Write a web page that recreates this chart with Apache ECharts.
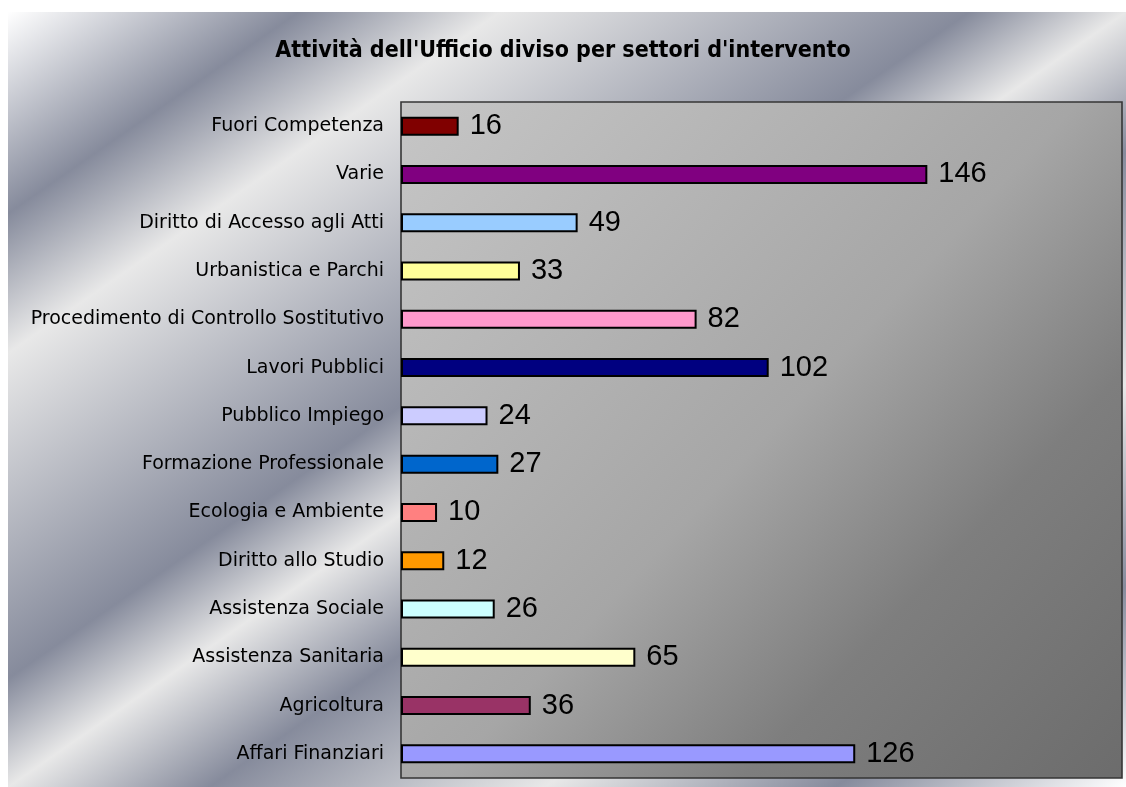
<!DOCTYPE html>
<html>
<head>
<meta charset="utf-8">
<script src="https://cdn.jsdelivr.net/npm/echarts@6/dist/echarts.min.js"></script>
<style>
html,body{margin:0;padding:0;background:#ffffff;}
#chart{width:1126px;height:787px;}
</style>
</head>
<body>
<div id="chart"></div>
<script>
const titleText = "Attività dell'Ufficio diviso per settori d'intervento";
const categories = [
  "Fuori Competenza",
  "Varie",
  "Diritto di Accesso agli Atti",
  "Urbanistica e Parchi",
  "Procedimento di Controllo Sostitutivo",
  "Lavori Pubblici",
  "Pubblico Impiego",
  "Formazione Professionale",
  "Ecologia e Ambiente",
  "Diritto allo Studio",
  "Assistenza Sociale",
  "Assistenza Sanitaria",
  "Agricoltura",
  "Affari Finanziari"
];
const values = [16, 146, 49, 33, 82, 102, 24, 27, 10, 12, 26, 65, 36, 126];
const barColors = [
  "#800000", "#800080", "#99ccff", "#ffff99", "#ff99cc", "#000080", "#ccccff",
  "#0066cc", "#ff8080", "#ff9900", "#ccffff", "#ffffcc", "#993366", "#9999ff"
];

const chart = echarts.init(document.getElementById('chart'), null, {renderer: 'canvas'});

const dark = '#868b9c', light = '#e8e8e8';
const option = {
  animation: false,
  graphic: [{
    type: 'rect',
    z: -10,
    silent: true,
    shape: {x: 8, y: 12, width: 1118, height: 775},
    style: {
      fill: {
        type: 'linear', x: 8, y: 12, x2: 734, y2: 1059, global: true,
        colorStops: [
          {offset: 0, color: '#ffffff'},
          {offset: 0.13, color: dark},
          {offset: 0.22, color: light},
          {offset: 0.43, color: dark},
          {offset: 0.5, color: light},
          {offset: 0.59, color: dark},
          {offset: 0.74, color: light},
          {offset: 0.87, color: dark},
          {offset: 1, color: '#ffffff'}
        ]
      }
    }
  }],
  title: {
    text: titleText,
    left: 'center',
    top: 35,
    textStyle: {
      fontFamily: "'DejaVu Sans Condensed', 'DejaVu Sans', sans-serif",
      fontWeight: 'bold',
      fontSize: 23,
      color: '#000000'
    }
  },
  grid: {
    left: 401, right: 4, top: 102, bottom: 9,
    containLabel: false,
    show: true,
    borderColor: '#363636',
    borderWidth: 1.6,
    backgroundColor: {
      type: 'linear', x: 0, y: 0, x2: 1, y2: 1,
      colorStops: [
        {offset: 0, color: '#c6c6c6'},
        {offset: 0.5, color: '#a6a6a6'},
        {offset: 0.72, color: '#7e7e7e'},
        {offset: 1, color: '#6c6c6c'}
      ]
    }
  },
  xAxis: {
    type: 'value',
    min: 0, max: 200,
    show: false,
    splitLine: {show: false}
  },
  yAxis: {
    type: 'category',
    inverse: true,
    data: categories,
    axisLine: {show: false},
    axisTick: {show: false},
    axisLabel: {
      margin: 17,
      fontFamily: "'DejaVu Sans', sans-serif",
      fontSize: 19,
      color: '#000000'
    }
  },
  series: [{
    type: 'bar',
    data: values.map((v, i) => ({value: v, itemStyle: {color: barColors[i]}})),
    barWidth: 19,
    itemStyle: {borderColor: '#000000', borderWidth: 2},
    label: {
      show: true,
      position: 'right',
      distance: 11,
      fontFamily: "'Liberation Sans', Arial, sans-serif",
      fontSize: 29,
      color: '#000000'
    }
  }]
};
chart.setOption(option);
</script>
</body>
</html>
